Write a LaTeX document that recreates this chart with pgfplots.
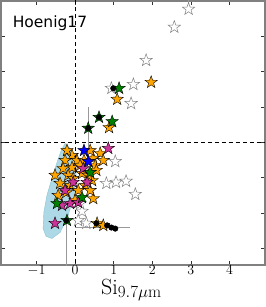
\RequirePackage{fix-cm}
\documentclass[border=0pt]{standalone}
\usepackage{fontspec}
\usepackage{pgfplots}
\pgfplotsset{compat=1.18}
\newfontfamily\dejavu{DejaVu Sans}
\DeclareMathSizes{22}{22}{17}{13}
\definecolor{mOrange}{RGB}{255,165,0}
\definecolor{mMag}{RGB}{204,51,153}
\definecolor{mGreen}{RGB}{0,128,0}
\definecolor{mBlue}{RGB}{0,0,255}
\definecolor{mCyan}{RGB}{173,216,230}
\pgfdeclareplotmark{fstar}{%
 \pgfpathmoveto{\pgfpointpolar{90}{\pgfplotmarksize}}%
 \pgfpathlineto{\pgfpointpolar{126}{0.4*\pgfplotmarksize}}%
 \pgfpathlineto{\pgfpointpolar{162}{\pgfplotmarksize}}%
 \pgfpathlineto{\pgfpointpolar{198}{0.4*\pgfplotmarksize}}%
 \pgfpathlineto{\pgfpointpolar{234}{\pgfplotmarksize}}%
 \pgfpathlineto{\pgfpointpolar{270}{0.4*\pgfplotmarksize}}%
 \pgfpathlineto{\pgfpointpolar{306}{\pgfplotmarksize}}%
 \pgfpathlineto{\pgfpointpolar{342}{0.4*\pgfplotmarksize}}%
 \pgfpathlineto{\pgfpointpolar{18}{\pgfplotmarksize}}%
 \pgfpathlineto{\pgfpointpolar{54}{0.4*\pgfplotmarksize}}%
 \pgfpathclose
 \pgfusepathqfillstroke}
\begin{document}
\begin{tikzpicture}
\begin{axis}[
 scale only axis, width=264pt, height=264pt,
 xmin=-1.92, xmax=4.92, ymin=-3.47, ymax=4,
 axis line style={draw=gray, line width=1.1pt},
 tick align=inside,
 xtick={-1,0,1,2,3,4}, ytick={-3,-2,-1,0,1,2,3}, yticklabels={},
 major tick length=4pt, tick style={black!80, line width=0.6pt},
 xticklabel style={font=\fontsize{14}{15}\selectfont, inner sep=0.5pt},
 xlabel={$\mathrm{Si}_{9.7\mu\mathrm{m}}$},
 xlabel style={font=\fontsize{22}{24}\selectfont, at={(axis description cs:0.494,0)}, anchor=base, yshift=-29.5pt, inner sep=0pt},
]
% density region
\addplot[fill=mCyan, draw=mCyan!80!teal, line width=0.4pt] coordinates {
 (-0.26,-0.03) (-0.13,-0.17) (-0.03,-0.51) (0.03,-0.93) (-0.03,-1.50)
 (-0.18,-2.07) (-0.39,-2.55) (-0.60,-2.72) (-0.75,-2.66) (-0.83,-2.44)
 (-0.81,-1.98) (-0.73,-1.50) (-0.60,-1.02) (-0.47,-0.57) (-0.36,-0.23) (-0.26,-0.03)} -- cycle;
% reference lines
\addplot[black, line width=1.1pt, dash pattern=on 4pt off 3pt] coordinates {(0,-3.6) (0,4.1)};
\addplot[black, line width=1.1pt, dash pattern=on 4pt off 3pt] coordinates {(-2,0) (5,0)};
% error bars
\addplot[gray!80, line width=1pt] coordinates {(-0.23,-2.21) (-0.23,-3.6)};
\addplot[gray!80, line width=1pt] coordinates {(0,-2.41) (1.43,-2.41)};
\addplot[gray!80, line width=1pt] coordinates {(0.34,0.99) (0.34,-0.2)};
\addplot[gray!80, line width=0.6pt] coordinates {(2.94,3.77) (2.94,4.1)};
% open stars
\addplot[only marks, mark=fstar, mark size=6.5pt, mark options={fill=white, draw=gray, line width=0.5pt}] coordinates {
 (2.94,3.77) (2.57,3.26) (1.84,2.32) (1.51,1.64) (1.45,1.10) (0.94,1.53)
 (1.04,-0.54) (1.32,-1.10) (1.06,-1.13) (0.81,-1.16) (1.56,-1.47)
 (0.18,-1.95) (0.08,-2.21) (0.29,-2.29) (0.13,-1.73)};
% orange
\addplot[only marks, mark=fstar, mark size=6.5pt, mark options={fill=mOrange, draw=black, line width=0.4pt}] coordinates {
 (1.97,1.70) (1.09,1.22) (0.88,0.42) (0.65,-0.31) (0.47,-0.45) (0.52,-0.65)
 (0.44,-1.08) (0.47,-1.59) (0.57,-2.29) (0.73,-2.35) (-0.08,-0.37) (-0.26,-0.51)
 (-0.08,-0.71) (0.05,-0.51) (-0.18,-0.93) (-0.05,-1.02) (0.18,-0.88) (-0.39,-1.16)
 (-0.13,-1.22) (-0.31,-0.74) (0.26,-1.22) (0.08,-1.36) (0.39,-1.36) (0.34,-0.93)
 (0.55,-0.79) (-0.44,-1.50) (-0.23,-1.42) (0.23,-0.51) (0.39,-0.23) (-0.21,-0.23)
 (0.0,-1.64) (0.73,-0.51) (-0.52,-0.93) (0.13,-0.65)};
% magenta
\addplot[only marks, mark=fstar, mark size=6.5pt, mark options={fill=mMag, draw=black, line width=0.4pt}] coordinates {
 (0.86,-0.17) (-0.13,-1.73) (-0.34,-1.78) (-0.52,-2.29) (0.08,-1.70)
 (0.21,-0.74) (0.31,-1.13) (-0.05,-1.13) (-0.26,-1.36)};
% green
\addplot[only marks, mark=fstar, mark size=6.5pt, mark options={fill=mGreen, draw=black, line width=0.4pt}] coordinates {
 (1.14,1.53) (0.62,0.71) (0.96,0.59) (0.34,0.40) (-0.47,-1.73) (-0.21,-2.21)
 (0.18,-1.56) (0.39,-0.85)};
% blue
\addplot[only marks, mark=fstar, mark size=6.5pt, mark options={fill=mBlue, draw=black, line width=0.4pt}] coordinates {
 (0.23,-0.23) (0.34,-0.54)};
% black dots
\addplot[only marks, mark=*, mark size=2.8pt, mark options={fill=black, draw=black}] coordinates {
 (0.99,1.53) (0.62,0.71) (0.34,0.40) (-0.23,-2.21) (0.55,-2.29) (0.83,-2.35)
 (0.94,-2.41) (1.04,-2.44)};
\node[anchor=base west, font=\dejavu\fontsize{15.5}{18}\selectfont, inner sep=0pt] at (rel axis cs:0.044,0.9015) {Hoenig17};
\end{axis}
\pgfresetboundingbox
\path ([shift={(-1pt,-42pt)}]current axis.south west) rectangle ([shift={(1pt,1pt)}]current axis.north east);
\end{tikzpicture}
\end{document}
